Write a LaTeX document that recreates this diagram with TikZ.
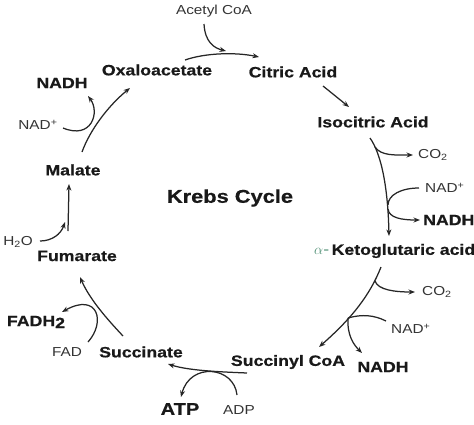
\documentclass[tikz,border=0pt]{standalone}
\usepackage{fontspec}
\setmainfont{Liberation Sans}[FakeStretch=1.18,BoldFeatures={FakeBold=0.6}]
\usetikzlibrary{arrows.meta}
\definecolor{ketogreen}{HTML}{4F8F74}
\begin{document}
\begin{tikzpicture}[x=1pt,y=-1pt,
  cpd/.style={font=\bfseries\fontsize{15}{18}\selectfont,text=black!90,inner sep=0pt},
  cof/.style={font=\fontsize{13}{16}\selectfont,text=black!80,inner sep=0pt},
  rxn/.style={draw=black!85,line width=1.25pt,-{Stealth[length=6.5pt,width=5pt]}},
  side/.style={draw=black!85,line width=1.25pt}]
\useasboundingbox (0,0) rectangle (474,424);
\node[cpd] (oxalo) at (157,70){Oxaloacetate};\node[cpd] (citric) at (293,72){Citric Acid};\node[cpd] (isocit) at (373,122){Isocitric Acid};
\node[cpd,anchor=west] (keto) at (314,251){\textcolor{ketogreen}{\normalfont\fontsize{15}{18}\selectfont $\alpha$-}\,Ketoglutaric acid};
\node[cpd] (sucoa) at (288,362){Succinyl CoA};\node[cpd] (succ) at (141,352){Succinate};
\node[cpd] (fum) at (77,256){Fumarate};\node[cpd] (mal) at (73,170){Malate};
\node[cpd,font=\bfseries\fontsize{18.5}{22}\selectfont] (krebs) at (230,198){Krebs Cycle};

\node[cof] (acetyl) at (214,11){Acetyl CoA};
\node[cof,anchor=west] (coa) at (418,155){CO\textsubscript{2}};\node[cof,anchor=west] (nada) at (425,188){NAD\textsuperscript{+}};\node[cpd,anchor=west] (nadha) at (423,220){NADH};
\node[cof,anchor=west] (cob) at (422,292){CO\textsubscript{2}};\node[cof,anchor=west] (nadb) at (391,329){NAD\textsuperscript{+}};\node[cpd] (nadhb) at (383,367){NADH};
\node[cof] (adp) at (239,410){ADP};\node[cpd,font=\bfseries\fontsize{17}{20}\selectfont] (atp) at (180,409){ATP};
\node[cof] (fad) at (67,352){FAD};\node[cpd] (fadh) at (36,322){FADH\raisebox{-2pt}{2}};
\node[cof] (water) at (18,242){H\textsubscript{2}O};
\node[cof] (nadc) at (38,125){NAD\textsuperscript{+}};\node[cpd] (nadhc) at (62,83){NADH};

\coordinate (acin) at (226,51);\coordinate (isoA) at (375,147);\coordinate (isoB) at (388,205);\coordinate (isoC) at (388,209);
\coordinate (ketoA) at (375,281);\coordinate (ketoB) at (348,318);\coordinate (h2oin) at (65,222);

\draw[rxn] ([shift={(28,-10)}]oxalo.center) .. controls +(20,-7) and +(-24,-5) .. ([shift={(-34,-15)}]citric.center);
\draw[rxn] ([shift={(-10,13)}]acetyl.center) .. controls +(1,18) and +(-12,-3) .. (acin);
\draw[rxn] ([shift={(30,14)}]citric.center) -- ([shift={(-24,-15)}]isocit.center);

\draw[rxn] ([shift={(-3,16)}]isocit.center) .. controls +(12,17) and +(-1,-46) .. ([shift={(75,-15)}]keto.west);
\draw[rxn] (isoA) .. controls +(6,9) and +(-18,0) .. ([xshift=-5pt]coa.west);
\draw[side] ([xshift=-6pt]nada.west) .. controls +(-18,0) and +(0,-10) .. (isoB);
\draw[rxn] (isoC) .. controls +(1,9) and +(-18,0) .. ([xshift=-3pt]nadha.west);

\draw[rxn] ([shift={(67,16)}]keto.west) .. controls +(-11,28) and +(33,-29) .. ([shift={(31,-15)}]sucoa.center);
\draw[rxn] (ketoA) .. controls +(3,9) and +(-20,0) .. ([xshift=-7pt]cob.west);
\draw[side] ([shift={(-5,-8)}]nadb.west) .. controls +(-12,-6) and +(14,-4) .. (ketoB);
\draw[rxn] (ketoB) .. controls +(-1,18) and +(-8,-8) .. ([shift={(-21,-14)}]nadhb.center);

\draw[rxn] ([shift={(-41,11)}]sucoa.center) .. controls +(-22,-1) and +(22,7) .. ([shift={(27,12)}]succ.center);
\draw[rxn] ([shift={(-2,-15)}]adp.center) .. controls +(-3,-29) and +(9,-35) .. ([shift={(1,-12)}]atp.center);

\draw[rxn] ([shift={(-18,-16)}]succ.center) .. controls +(-15,-16) and +(10,23) .. ([shift={(3,21)}]fum.center);
\draw[rxn] ([shift={(21,-10)}]fad.center) .. controls +(18,-20) and +(36,-20) .. ([shift={(26,-10)}]fadh.center);

\draw[rxn] ([shift={(-9,-25)}]fum.center) -- ([shift={(-4,14)}]mal.center);
\draw[rxn] ([shift={(22,-1)}]water.center) .. controls +(12,0) and +(-4,12) .. (h2oin);

\draw[rxn] ([shift={(9,-18)}]mal.center) .. controls +(8,-22) and +(-22,18) .. ([shift={(-27,18)}]oxalo.center);
\draw[rxn] ([shift={(25,3)}]nadc.center) .. controls +(29,12) and +(12,16) .. ([shift={(26,13)}]nadhc.center);
\end{tikzpicture}
\end{document}
